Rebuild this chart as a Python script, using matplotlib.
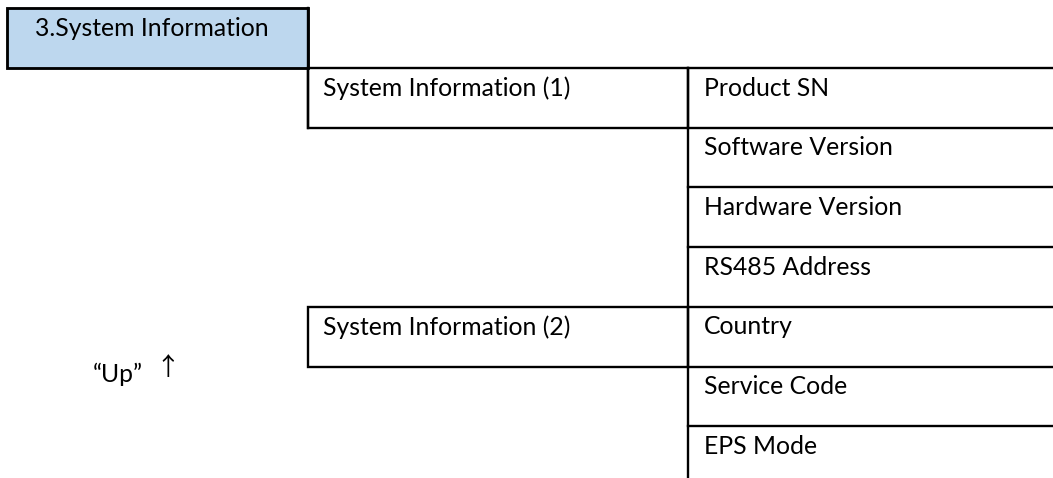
import matplotlib
matplotlib.use("Agg")
import matplotlib.pyplot as plt
from matplotlib.patches import Rectangle

plt.rcParams["font.family"] = ["Lato", "DejaVu Sans"]

# menu content
title = "3.System Information"
groups = ["System Information (1)", "System Information (2)"]
group_rows = [0, 4]          # row index where each group starts
items = ["Product SN", "Software Version", "Hardware Version",
         "RS485 Address", "Country", "Service Code", "EPS Mode"]
note = "\u201cUp\u201d"
arrow = "\u2191"

W, H = 1053, 478
FS = 17.8
LW = 1.7
BLUE = "#bdd7ee"

# layout (pixels, y downwards)
x0, x1, x2, x_end = 7, 308, 688, 1053
y_top, y_rows = 8, 68
row_h = 59.7

fig = plt.figure(figsize=(W / 100, H / 100), dpi=100)
ax = fig.add_axes([0, 0, 1, 1])
ax.set_xlim(0, W)
ax.set_ylim(H, 0)
ax.axis("off")

def line(xs, ys):
    ax.plot(xs, ys, color="black", lw=LW, solid_capstyle="projecting")

# title box
ax.add_patch(Rectangle((x0, y_top), x1 - x0, y_rows - y_top,
                       facecolor=BLUE, edgecolor="black", lw=LW * 1.2))
ax.text(x0 + 28, y_top + 20, title, ha="left", va="center", fontsize=FS)

# group boxes
for g, r in zip(groups, group_rows):
    yt = y_rows + r * row_h
    ax.add_patch(Rectangle((x1, yt), x2 - x1, row_h,
                           facecolor="none", edgecolor="black", lw=LW))
    ax.text(x1 + 15, yt + 20, g, ha="left", va="center", fontsize=FS)

# item column
line([x2, x2], [y_rows, H])
for i, it in enumerate(items):
    yt = y_rows + i * row_h
    line([x2, x_end], [yt, yt])
    ax.text(x2 + 16, yt + 20, it, ha="left", va="center", fontsize=FS)
# left edge continuing from title box down to the first group
line([x1, x1], [y_top, y_rows + row_h])

ax.text(93, 374, note, ha="left", va="center", fontsize=FS)
ax.text(155, 368, arrow, ha="left", va="center", fontsize=FS,
        family=["Noto Sans CJK SC", "DejaVu Sans"])

fig.savefig("out.png", dpi=100, facecolor="white")
